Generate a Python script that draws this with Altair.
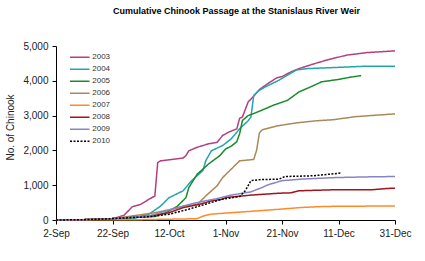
import json
import altair as alt
import pandas as pd

years = ["2003", "2004", "2005", "2006", "2007", "2008", "2009", "2010"]
colors = ["#B3407D", "#22A5AB", "#1E8A2E", "#A88A5A", "#FF8A2A", "#A0141E", "#8585C5", "#000000"]
tick_labels = ["2-Sep", "22-Sep", "12-Oct", "1-Nov", "21-Nov", "11-Dec", "31-Dec"]

# day offset from 2-Sep, cumulative count
d2003 = [0, 10, 20, 24, 27, 30, 33, 35, 36, 37, 45, 46, 47, 50, 54, 57, 59, 61, 64, 65, 66, 68, 70, 72, 75, 78, 80, 83, 86, 91, 96, 103, 110, 120]
v2003 = [0, 10, 40, 130, 380, 450, 600, 690, 1650, 1700, 1780, 1850, 1990, 2090, 2190, 2230, 2430, 2520, 2620, 2920, 2960, 3390, 3560, 3750, 3920, 4080, 4120, 4250, 4350, 4480, 4600, 4740, 4810, 4860]

d2004 = [0, 10, 20, 28, 33, 37, 40, 45, 48, 52, 53, 55, 59, 62, 65, 66, 68, 69, 70, 72, 74, 79, 83, 85, 89, 98, 110, 120]
v2004 = [0, 10, 40, 60, 170, 400, 640, 840, 1130, 1420, 1700, 1990, 2140, 2330, 2620, 2700, 2850, 2960, 3580, 3730, 3820, 4020, 4210, 4310, 4350, 4380, 4420, 4420]

d2005 = [0, 10, 20, 35, 39, 43, 46, 47, 50, 52, 54, 58, 60, 62, 64, 65, 66, 68, 70, 73, 77, 82, 86, 90, 94, 100, 104, 108]
v2005 = [0, 10, 40, 100, 210, 400, 640, 930, 1320, 1460, 1610, 1850, 2040, 2120, 2250, 2480, 2860, 3000, 3060, 3160, 3300, 3440, 3680, 3820, 3970, 4040, 4100, 4150]

d2006 = [0, 10, 20, 30, 35, 41, 46, 50, 53, 57, 59, 62, 65, 70, 71, 72, 73, 78, 85, 92, 98, 106, 120]
v2006 = [0, 10, 40, 150, 210, 310, 400, 450, 690, 980, 1220, 1460, 1700, 1740, 2000, 2500, 2590, 2700, 2790, 2850, 2880, 2970, 3050]

d2007 = [0, 30, 45, 50, 52, 55, 62, 71, 79, 87, 95, 120]
v2007 = [0, 10, 30, 40, 110, 170, 210, 260, 310, 360, 390, 405]

d2008 = [0, 10, 20, 33, 40, 45, 51, 55, 59, 60, 69, 79, 83, 86, 99, 112, 117, 120]
v2008 = [0, 10, 40, 115, 210, 355, 455, 550, 600, 645, 715, 770, 780, 840, 870, 870, 905, 915]

d2009 = [0, 10, 20, 33, 45, 51, 57, 62, 69, 73, 75, 80, 87, 99, 111, 120]
v2009 = [0, 10, 40, 115, 405, 520, 615, 715, 810, 935, 1010, 1130, 1175, 1220, 1240, 1250]

d2010 = [0, 10, 20, 33, 40, 47, 53, 59, 65, 67, 69, 72, 79, 81, 91, 101]
v2010 = [0, 10, 40, 95, 165, 310, 455, 600, 675, 840, 1130, 1160, 1175, 1250, 1270, 1350]

series = {
    "2003": (d2003, v2003), "2004": (d2004, v2004), "2005": (d2005, v2005),
    "2006": (d2006, v2006), "2007": (d2007, v2007), "2008": (d2008, v2008),
    "2009": (d2009, v2009), "2010": (d2010, v2010),
}
rows = []
for y, (ds, vs) in series.items():
    for d, v in zip(ds, vs):
        rows.append({"year": y, "day": d, "count": v})
df = pd.DataFrame(rows)

FONT = "Liberation Sans"
label_expr = json.dumps(tick_labels) + "[round(datum.value / 20)]"

dashes = [[1, 0]] * 7 + [[2, 1.5]]

legend_kw = dict(title=None, orient="none", legendX=16.25, legendY=3.8,
                 symbolType="M-1.5,0H1.5", symbolSize=169,
                 symbolStrokeWidth=1.5, labelFontSize=8, labelFont=FONT,
                 labelColor="#333", labelOffset=5, rowPadding=0, padding=0)

chart = alt.Chart(df).mark_line(strokeWidth=1.5).encode(
    x=alt.X("day:Q", scale=alt.Scale(domain=[0, 120], nice=False),
            axis=alt.Axis(values=[0, 20, 40, 60, 80, 100, 120], labelExpr=label_expr,
                          title=None, grid=False, tickSize=4, labelPadding=4,
                          labelFontSize=10, labelFont=FONT, labelColor="#222",
                          domainColor="#000", tickColor="#000", labelFlush=False)),
    y=alt.Y("count:Q", scale=alt.Scale(domain=[0, 5000], nice=False),
            axis=alt.Axis(values=[0, 1000, 2000, 3000, 4000, 5000], format=",.0f",
                          title="No. of Chinook", titleFont=FONT, titleFontSize=10,
                          titleFontWeight="normal", titleColor="#222",
                          titleX=-46, titleY=81, titleAlign="center", titleBaseline="middle",
                          grid=False, tickSize=4, labelPadding=4,
                          labelFontSize=10, labelFont=FONT, labelColor="#222",
                          domainColor="#000", tickColor="#000")),
    color=alt.Color("year:N", scale=alt.Scale(domain=years, range=colors),
                    legend=alt.Legend(**legend_kw)),
    strokeDash=alt.StrokeDash("year:N", scale=alt.Scale(domain=years, range=dashes),
                              legend=alt.Legend(**legend_kw)),
).properties(
    width=339, height=174,
    title=alt.TitleParams("Cumulative Chinook Passage at the Stanislaus River Weir",
                          font=FONT, fontSize=9, fontWeight="bold", color="#000",
                          anchor="middle", dx=11, offset=25),
    autosize=alt.AutoSizeParams(type="none"),
    padding={"left": 56, "top": 46, "right": 30, "bottom": 41},
).configure_view(stroke=None)

chart.save("out.html", embed_options={"renderer": "svg", "actions": False})
